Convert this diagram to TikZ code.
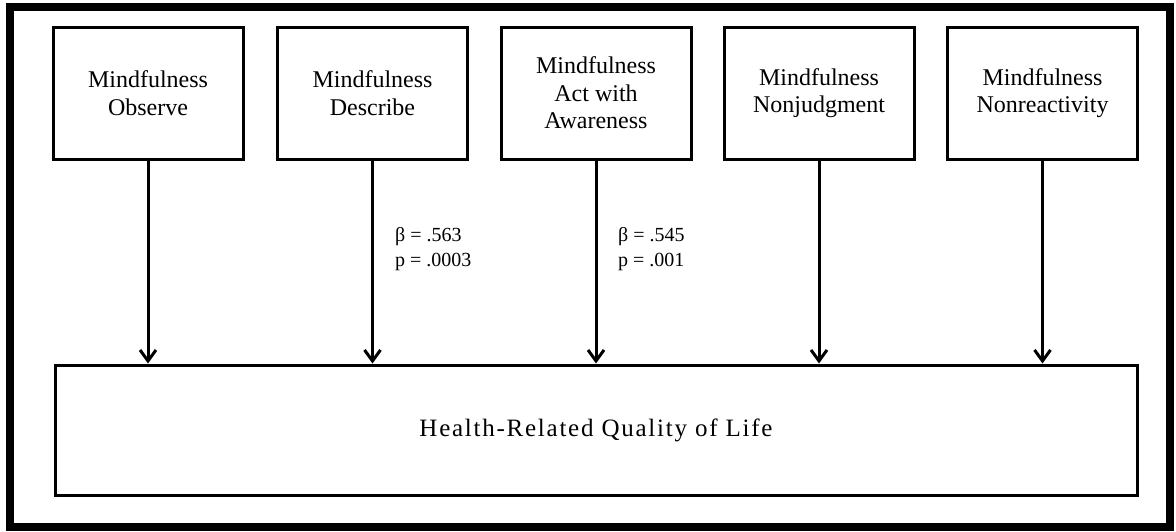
\documentclass[tikz,border=0pt]{standalone}
\usepackage{fontspec}
\setmainfont{Liberation Serif}
\usetikzlibrary{arrows.meta}
\begin{document}
\begin{tikzpicture}[x=1pt,y=-1pt,
  facet/.style={draw,line width=3pt,minimum width=190pt,minimum height=132pt,inner sep=0pt,align=center,font=\fontsize{24}{27.5}\selectfont},
  outcome/.style={draw,line width=3pt,minimum width=1082pt,minimum height=130pt,inner sep=0pt,font=\fontsize{25}{28}\selectfont\addfontfeature{LetterSpace=7}},
  arr/.style={line width=3pt,-{Straight Barb[length=11pt,width=16pt,line width=3pt]}},
  stat/.style={anchor=west,align=left,inner sep=0pt,font=\fontsize{20}{25}\selectfont}]
\useasboundingbox (0,0) rectangle (1176,531);
\draw[line width=8pt] (9.5,7) rectangle (1170,527);
\node[facet] (obs) at (148,93) {Mindfulness\\Observe};
\node[facet] (des) at (372.5,93) {Mindfulness\\Describe};
\node[facet] (act) at (596,93) {Mindfulness\\Act with\\Awareness};
\node[facet] (nj) at (819,93) {Mindfulness\\Nonjudgment};
\node[facet] (nr) at (1042.5,93) {Mindfulness\\Nonreactivity};
\node[outcome] (hq) at (596,430) {Health-Related Quality of Life};
\foreach \n in {obs,des,act,nj,nr}{
  \draw[arr] (\n.south) -- (\n.south |- hq.north);
}
\node[stat] (s1) at (395,249) {β = .563\\p = .0003};
\node[stat] (s2) at (618,249) {β = .545\\p = .001};
\end{tikzpicture}
\end{document}
